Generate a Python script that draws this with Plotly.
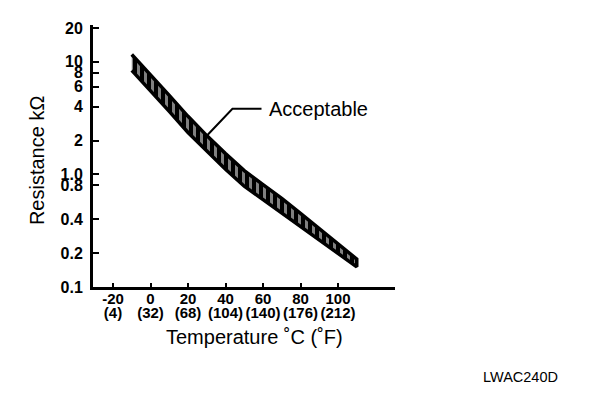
import math
import plotly.graph_objects as go

# Data
temps_c = [-10, 0, 10, 20, 30, 40, 50, 60, 70, 80, 90, 100, 110]
upper_kohm = [11.62, 7.73, 5.03, 3.28, 2.21, 1.53, 1.08, 0.81, 0.612, 0.450, 0.331, 0.244, 0.177]
lower_kohm = [8.40, 5.57, 3.63, 2.36, 1.60, 1.11, 0.786, 0.588, 0.451, 0.339, 0.259, 0.199, 0.151]

x_tick_c = [-20, 0, 20, 40, 60, 80, 100]
x_tick_f = ["(4)", "(32)", "(68)", "(104)", "(140)", "(176)", "(212)"]
y_tick_vals = [0.1, 0.2, 0.4, 0.8, 1.0, 2, 4, 6, 8, 10, 20]
y_tick_text = ["0.1", "0.2", "0.4", "0.8", "1.0", "2", "4", "6", "8", "10", "20"]

# Leader line for the "Acceptable" label (temperature, resistance)
leader_t = [30.4, 43.7, 59.2]
leader_r = [2.24, 3.82, 3.82]
label_t = 62.0
label_r = 3.82

X_RANGE = [-30.67, 130.4]
tick_font = dict(family="Liberation Sans", size=15, color="black", weight="bold")

fig = go.Figure()

band_x = temps_c + temps_c[::-1]
band_y = upper_kohm + lower_kohm[::-1]
fig.add_trace(go.Scatter(
    x=band_x, y=band_y, mode="lines", fill="toself",
    line=dict(color="black", width=3.5),
    fillcolor="black",
    fillpattern=dict(shape="|", bgcolor="black", fgcolor="white", size=7, solidity=3 / 7),
    hoverinfo="skip", showlegend=False,
))

fig.add_trace(go.Scatter(
    x=leader_t, y=leader_r, mode="lines",
    line=dict(color="black", width=2),
    hoverinfo="skip", showlegend=False,
))

# invisible trace carrying the Fahrenheit tick axis
fig.add_trace(go.Scatter(
    x=temps_c, y=upper_kohm, xaxis="x2", mode="none",
    hoverinfo="skip", showlegend=False,
))

fig.add_annotation(x=label_t, y=math.log10(label_r), yref="y", xref="x", text="Acceptable",
                   showarrow=False, xanchor="left", yanchor="middle",
                   font=dict(family="Liberation Sans", size=20, color="black"))

fig.add_annotation(x=0.536, y=-0.191, xref="paper", yref="paper",
                   text="Temperature ˚C (˚F)", showarrow=False,
                   xanchor="center", yanchor="middle",
                   font=dict(family="Liberation Sans", size=20, color="black"))

fig.add_annotation(x=-0.185, y=0.481, xref="paper", yref="paper",
                   text="Resistance kΩ", showarrow=False, textangle=-90,
                   xanchor="center", yanchor="middle",
                   font=dict(family="Liberation Sans", size=20, color="black"))

fig.add_annotation(x=1.417, y=-0.343, xref="paper", yref="paper",
                   text="LWAC240D", showarrow=False,
                   xanchor="center", yanchor="middle",
                   font=dict(family="Liberation Sans", size=14.5, color="black"))

fig.update_layout(
    xaxis=dict(
        range=X_RANGE,
        tickvals=x_tick_c,
        ticktext=[str(c) for c in x_tick_c],
        ticks="inside", ticklen=4, tickwidth=2, tickcolor="black",
        showline=True, linewidth=3, linecolor="black",
        showgrid=False, zeroline=False, automargin=False,
        ticklabelstandoff=-4,
        tickfont=tick_font,
    ),
    xaxis2=dict(
        range=X_RANGE, overlaying="x", side="bottom", anchor="y",
        tickvals=x_tick_c, ticktext=x_tick_f,
        ticks="", showline=False, showgrid=False, zeroline=False,
        automargin=False, ticklabelstandoff=15,
        tickfont=tick_font,
    ),
    yaxis=dict(
        type="log", range=[-1, 1.327],
        tickvals=y_tick_vals, ticktext=y_tick_text,
        ticks="inside", ticklen=6, tickwidth=2, tickcolor="black",
        showline=True, linewidth=3, linecolor="black",
        showgrid=False, zeroline=False, automargin=False,
        ticklabelstandoff=4,
        tickfont=dict(family="Liberation Sans", size=16, color="black", weight="bold"),
    ),
    width=608, height=400,
    margin=dict(l=85, r=221, t=17, b=121, autoexpand=False),
    paper_bgcolor="white", plot_bgcolor="white",
    showlegend=False,
)

fig.write_html("out.html")
